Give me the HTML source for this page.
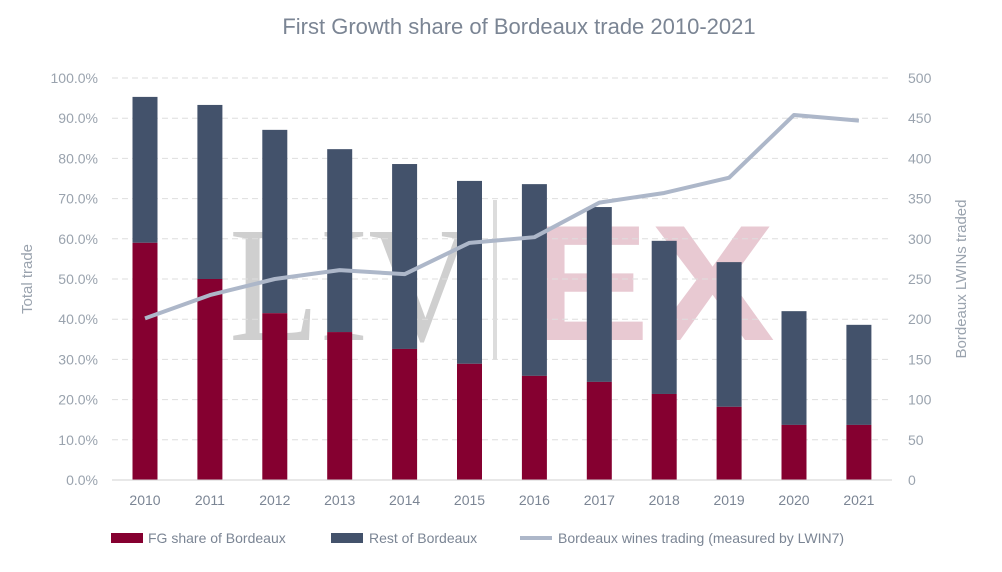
<!DOCTYPE html>
<html><head><meta charset="utf-8"><style>
html,body{margin:0;padding:0;background:#fff;}
svg{display:block;font-family:"Liberation Sans",sans-serif;}
</style></head><body>
<svg id="chart" width="1002" height="572" viewBox="0 0 1002 572">
<text x="519" y="34" text-anchor="middle" font-size="22" fill="#7b8594">First Growth share of Bordeaux trade 2010-2021</text>
<g>
<text x="229" y="340" font-family="Liberation Serif,serif" font-size="165" fill="#cfcfcf" textLength="246" lengthAdjust="spacingAndGlyphs">LIV</text>
<rect x="493" y="200" width="4" height="160" fill="#dcdcdc"/>
<text x="525" y="340" font-family="Liberation Sans,sans-serif" font-weight="bold" font-size="165" fill="#e8c9d2" textLength="250" lengthAdjust="spacingAndGlyphs">EX</text>
</g>
<g id="grid"></g>
<g id="bars"></g>
<g id="line"></g>
<g id="axes"></g>
<text transform="translate(32,279) rotate(-90)" text-anchor="middle" font-size="15" fill="#9aa3ae">Total trade</text>
<text transform="translate(966,279) rotate(-90)" text-anchor="middle" font-size="15" fill="#9aa3ae">Bordeaux LWINs traded</text>
<g>
<g><rect x="111" y="533" width="32" height="10" fill="#850030"/><text x="148" y="543" font-size="14" fill="#7b8594">FG share of Bordeaux</text></g>
<g><rect x="331" y="533" width="32" height="10" fill="#43526b"/><text x="369" y="543" font-size="14" fill="#7b8594">Rest of Bordeaux</text></g>
<g><rect x="520" y="536" width="32" height="4" fill="#adb7c9"/><text x="558" y="543" font-size="14" fill="#7b8594">Bordeaux wines trading (measured by LWIN7)</text></g>
</g>
</svg>
<script>
const years=["2010","2011","2012","2013","2014","2015","2016","2017","2018","2019","2020","2021"];
const totalShare=[95.3,93.3,87.1,82.3,78.6,74.4,73.6,67.9,59.5,54.2,42.0,38.6];
const fgShare=[59.0,50.0,41.5,36.8,32.6,28.9,25.9,24.4,21.4,18.2,13.7,13.7];
const lwins=[201,230,250,261,256,295,302,345,357,376,454,447];
const leftTicks=["0.0%","10.0%","20.0%","30.0%","40.0%","50.0%","60.0%","70.0%","80.0%","90.0%","100.0%"];
const rightTicks=["0","50","100","150","200","250","300","350","400","450","500"];
const NS="http://www.w3.org/2000/svg";
const y0=480,y1=78;
const yL=v=>y0-(v/100)*(y0-y1);
const yR=v=>y0-(v/500)*(y0-y1);
const xC=i=>145+i*64.9;
function mk(t,a,p){const e=document.createElementNS(NS,t);for(const k in a)e.setAttribute(k,a[k]);p.appendChild(e);return e;}
const grid=document.getElementById('grid'),axes=document.getElementById('axes'),bars=document.getElementById('bars'),line=document.getElementById('line');
leftTicks.forEach((t,i)=>{const y=yL(i*10);
 if(i>0){const g=mk('line',{x1:112,x2:892,y1:y,y2:y,stroke:'#dedede','stroke-dasharray':'6,4'},grid);
 
 }
 const l=mk('text',{x:98,y:y+5,'text-anchor':'end','font-size':14,fill:'#9aa3ae'},axes);l.textContent=t;
 
 
});
rightTicks.forEach((t,i)=>{const y=yR(i*50);
 const l=mk('text',{x:908,y:y+5,'font-size':14,fill:'#9aa3ae'},axes);l.textContent=t;
 
 
});
const ax=mk('line',{x1:112,x2:892,y1:y0,y2:y0,stroke:'#d0d0d0'},axes);


years.forEach((yr,i)=>{const x=xC(i),w=25;
 const r1=mk('rect',{x:x-w/2,y:yL(totalShare[i]),width:w,height:yL(fgShare[i])-yL(totalShare[i]),fill:'#43526b'},bars);
 
 
 const r2=mk('rect',{x:x-w/2,y:yL(fgShare[i]),width:w,height:y0-yL(fgShare[i]),fill:'#850030'},bars);
 
 
 const t=mk('text',{x:x,y:505,'text-anchor':'middle','font-size':14,fill:'#7b8594'},axes);t.textContent=yr;
 
 
});
const pts=lwins.map((v,i)=>xC(i)+','+yR(v)).join(' ');
const pl=mk('polyline',{points:pts,fill:'none',stroke:'#adb7c9','stroke-width':4,'stroke-linejoin':'round'},line);


</script>
</body></html>
